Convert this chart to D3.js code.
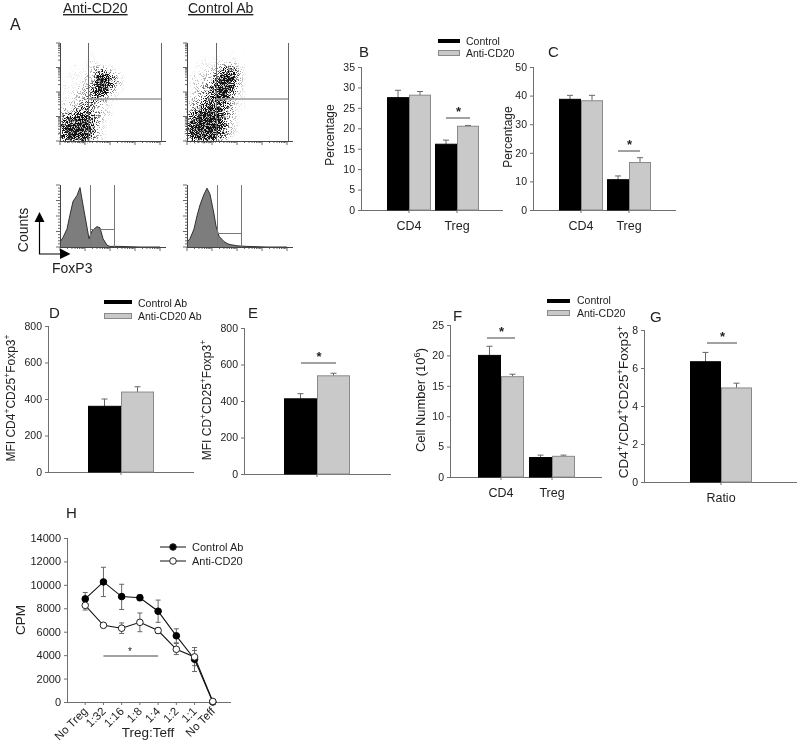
<!DOCTYPE html>
<html><head><meta charset="utf-8">
<script src="https://cdnjs.cloudflare.com/ajax/libs/d3/7.8.5/d3.min.js"></script>
<style>
html,body{margin:0;background:#fff}
svg{display:block;filter:blur(0.4px)}
text{font-family:"Liberation Sans",Arial,sans-serif;fill:#222}
</style></head><body><svg id="c" width="800" height="744"></svg>
<script>
// ---- data ----
const bCats=["CD4","Treg"], bControl=[27.5,16.1], bAnti=[28.1,20.5], bControlTop=[29.3,17.1], bAntiTop=[29,20.7];
const bTicks=[0,5,10,15,20,25,30,35];
const cCats=["CD4","Treg"], cControl=[38.7,10.6], cAnti=[38.2,16.6], cControlTop=[40.1,11.9], cAntiTop=[40.1,18.3];
const cTicks=[0,10,20,30,40,50];
const dCats=[""], dControl=[360], dAnti=[438], dControlTop=[400], dAntiTop=[467];
const dTicks=[0,200,400,600,800];
const eCats=[""], eControl=[412], eAnti=[538], eControlTop=[440], eAntiTop=[552];
const eTicks=[0,200,400,600,800];
const fCats=["CD4","Treg"], fControl=[20,3.2], fAnti=[16.5,3.4], fControlTop=[21.5,3.6], fAntiTop=[16.9,3.6];
const fTicks=[0,5,10,15,20,25];
const gCats=["Ratio"], gControl=[6.33], gAnti=[4.95], gControlTop=[6.82], gAntiTop=[5.2];
const gTicks=[0,2,4,6,8];
const hCats=["No Treg","1:32","1:16","1:8","1:4","1:2","1:1","No Teff"];
const hControl=[8800,10250,9000,8900,7750,5650,3650,0];
const hControlHi=[9350,11500,10050,9150,8700,6250,4400,0];
const hControlLo=[8200,9000,7900,8650,6800,5050,2600,0];
const hAnti=[8250,6550,6300,6800,6100,4500,3850,50];
const hAntiHi=[8800,6750,6750,7600,6350,5000,4650,50];
const hAntiLo=[7850,6350,5850,6000,5850,4050,3100,50];
const hTicks=[0,2000,4000,6000,8000,10000,12000,14000];
// flow plots: density read cell by cell (0-9), rows top to bottom
const densityAntiCD20=[
"00000000000000000","00000100000000000","00001100000000000","00101210100000000",
"01111254210000000","01112289531000000","11112399631000000","11123598421000000",
"11223674210000000","12234542110000000","22345331100000000","34677432100000000",
"57899531100000000","68999621100000000","68999521000000000","68988421000000000"];
const densityControlAb=[
"00000100100000000","00000101010000000","00111101100000000","01111223110000000",
"01122476310000000","12224798410000000","12235898310000000","12346897310000000",
"12357885210000000","23468763110000000","33579753110000000","46899843100000000",
"68999842100000000","78999852100000000","78999742100000000","68988531000000000"];
const histChannels=[0,3,7,10,13,17,20,23,27,29,32,37,40,43,47,50,60,80,100];
const histAntiCD20=[8,16,30,54,76,86,99,70,33,14,27,34,32,14,3,1,1,0,0];
const histControlAb=[8,14,30,52,70,88,98,88,55,35,18,9,6,4,3,2,1,0,0];

const COL_BLACK="#000", COL_GRAY="#c9c9c9", COL_EDGE="#8a8a8a", COL_AXIS="#6f6f6f";
const svg=d3.select("#c");

// stipple filter renders density as a dot cloud
const defs=svg.append("defs");
const fl=defs.append("filter").attr("id","stip").attr("x","0").attr("y","0").attr("width","1").attr("height","1").attr("color-interpolation-filters","sRGB");
fl.append("feGaussianBlur").attr("in","SourceGraphic").attr("stdDeviation",2.2).attr("result","b");
fl.append("feTurbulence").attr("type","fractalNoise").attr("baseFrequency",1.1).attr("numOctaves",2).attr("seed",4).attr("result","t");
fl.append("feColorMatrix").attr("in","t").attr("type","matrix").attr("values","0 0 0 0 0 0 0 0 0 0 0 0 0 0 0 4.5 0 0 0 -1.75").attr("result","n");
fl.append("feComposite").attr("in","b").attr("in2","n").attr("operator","arithmetic").attr("k1",0).attr("k2",0.55).attr("k3",0.45).attr("k4",0).attr("result","s");
const ct=fl.append("feComponentTransfer").attr("in","s").attr("result","th");
ct.append("feFuncA").attr("type","linear").attr("slope",4).attr("intercept",-1.9);
fl.append("feFlood").attr("flood-color","#111").attr("result","f");
fl.append("feComposite").attr("in","f").attr("in2","th").attr("operator","in");

function txt(x,y,s,size,anchor){return svg.append("text").attr("x",x).attr("y",y).attr("font-size",size).attr("text-anchor",anchor||"start").text(s);}
function rich(cx,cy,parts,size){
  const t=svg.append("text").attr("transform",`translate(${cx},${cy}) rotate(-90)`).attr("text-anchor","middle").attr("font-size",size);
  parts.forEach(p=>{
    if(p[1]) t.append("tspan").attr("dy",-size*0.38).attr("font-size",size*0.72).text(p[0]);
    else t.append("tspan").attr("dy",p[2]?size*0.38:0).text(p[0]);
  });
}
function styleAxis(g,size){
  g.selectAll(".domain").remove();
  g.selectAll("line").attr("stroke",COL_AXIS);
  g.selectAll("text").attr("font-size",size).attr("fill","#222").attr("font-family","Liberation Sans");
}
function barPanel(o){
  const g=svg.append("g");
  const y=d3.scaleLinear().domain(o.dom).range([o.y0,o.y1]);
  const x=d3.scalePoint().domain(o.cats).range(o.centers);
  const px=o.cats.length>1?(c=>x(c)):(()=>o.centers[0]);
  const gy=g.append("g").attr("transform",`translate(${o.ax},0)`).call(d3.axisLeft(y).tickValues(o.ticks).tickSize(3).tickPadding(3));
  styleAxis(gy,o.tickFont||10.5);
  g.append("line").attr("x1",o.ax+0.5).attr("x2",o.ax+0.5).attr("y1",o.y1).attr("y2",o.y0).attr("stroke",COL_AXIS);
  g.append("line").attr("x1",o.ax).attr("x2",o.end).attr("y1",o.y0+0.5).attr("y2",o.y0+0.5).attr("stroke",COL_AXIS);
  const series=[[o.control,o.controlTop,-1,COL_BLACK,COL_BLACK],[o.anti,o.antiTop,0,COL_GRAY,COL_EDGE]];
  series.forEach(s=>{
    o.cats.forEach((c,i)=>{
      const bx=px(c)+s[2]*o.bw, mid=bx+o.bw/2;
      g.append("line").attr("x1",mid).attr("x2",mid).attr("y1",y(s[0][i])).attr("y2",y(s[1][i])).attr("stroke","#666");
      g.append("line").attr("x1",mid-3).attr("x2",mid+3).attr("y1",y(s[1][i])).attr("y2",y(s[1][i])).attr("stroke","#666");
      g.append("rect").attr("x",bx+0.5).attr("width",o.bw-1).attr("y",y(s[0][i])).attr("height",o.y0-y(s[0][i])).attr("fill",s[3]).attr("stroke",s[4]);
    });
  });
  o.cats.forEach(c=>{
    g.append("line").attr("x1",px(c)).attr("x2",px(c)).attr("y1",o.y0).attr("y2",o.y0+3).attr("stroke",COL_AXIS);
    if(c) txt(px(c),o.y0+20,c,12.5,"middle");
  });
  if(o.sig){
    g.append("line").attr("x1",o.sig[0]).attr("x2",o.sig[1]).attr("y1",o.sig[2]).attr("y2",o.sig[2]).attr("stroke","#444");
    txt((o.sig[0]+o.sig[1])/2+0.5,o.sig[2]-2,"*",13,"middle").attr("font-weight","bold");
  }
}
function legendBars(x0,x1,y1,y2,tx,b1,b2,labels){
  svg.append("rect").attr("x",x0).attr("y",y1-2).attr("width",x1-x0).attr("height",4).attr("fill","#000");
  svg.append("rect").attr("x",x0+.5).attr("y",y2-2.5).attr("width",x1-x0-1).attr("height",5).attr("fill",COL_GRAY).attr("stroke",COL_EDGE);
  txt(tx,b1,labels[0],10.5); txt(tx,b2,labels[1],10.5);
}
function logTicks(g,scale,pos,dir){
  const majors=[1,10,100,1000,10000];
  scale.ticks().forEach(t=>{
    const major=majors.includes(t), len=major?4:2, p=scale(t);
    if(dir==="x") g.append("line").attr("x1",p).attr("x2",p).attr("y1",pos).attr("y2",pos+len).attr("stroke","#444").attr("stroke-width",.8);
    else g.append("line").attr("x1",pos).attr("x2",pos-len).attr("y1",p).attr("y2",p).attr("stroke","#444").attr("stroke-width",.8);
  });
}
function flowFrame(g,left,top,bottom,right,yIsLog){
  const xs=d3.scaleLog().domain([1,10000]).range([left,right-6]);
  g.append("line").attr("x1",left).attr("x2",right).attr("y1",bottom+.5).attr("y2",bottom+.5).attr("stroke","#444");
  g.append("line").attr("x1",left+.5).attr("x2",left+.5).attr("y1",top).attr("y2",bottom).attr("stroke","#444");
  logTicks(g,xs,bottom,"x");
  if(yIsLog) logTicks(g,d3.scaleLog().domain([1,10000]).range([bottom,top]),left,"y");
  else d3.range(0,21).forEach(i=>{
    const yy=d3.scaleLinear().domain([0,20]).range([bottom,top])(i);
    g.append("line").attr("x1",left).attr("x2",left-(i%5===0?4:2)).attr("y1",yy).attr("y2",yy).attr("stroke","#444").attr("stroke-width",.8);
  });
}
function dotPlot(left,gate,gateEnd,rows){
  const g=svg.append("g");
  const top=43,bottom=141,hy=99;
  const cx=d3.scaleBand().domain(d3.range(rows[0].length)).range([left,left+102]);
  const cy=d3.scaleBand().domain(d3.range(rows.length)).range([top,bottom]);
  const a=d3.scalePow().exponent(1.15).domain([0,9]).range([0,1.1]);
  const cloud=g.append("g").attr("filter","url(#stip)");
  cloud.append("rect").attr("x",left-3).attr("y",top-3).attr("width",112).attr("height",104).attr("fill","#fff").attr("fill-opacity",0);
  rows.forEach((r,ri)=>r.split("").forEach((d,ci)=>{
    if(+d>0) cloud.append("rect").attr("x",cx(ci)).attr("y",cy(ri)).attr("width",cx.bandwidth()).attr("height",cy.bandwidth()).attr("fill","#000").attr("fill-opacity",Math.min(1,a(+d)));
  }));
  flowFrame(g,left,top,bottom,left+106,true);
  [gate,gateEnd].forEach(v=>g.append("line").attr("x1",v+.5).attr("x2",v+.5).attr("y1",top).attr("y2",bottom).attr("stroke","#666"));
  g.append("line").attr("x1",gate).attr("x2",gateEnd).attr("y1",hy).attr("y2",hy).attr("stroke","#999").attr("stroke-width",1.5);
}
function histPlot(left,counts,gate,gateEnd,hy){
  const g=svg.append("g");
  const top=185,bottom=247;
  const x=d3.scaleLinear().domain([0,106]).range([left,left+106]);
  const y=d3.scaleLinear().domain([0,100]).range([bottom,top+2]);
  const area=d3.area().x((d,i)=>x(histChannels[i])).y0(bottom).y1(d=>y(d)).curve(d3.curveLinear);
  const line=d3.line().x((d,i)=>x(histChannels[i])).y(d=>y(d));
  g.append("path").attr("d",area(counts)).attr("fill","#7d7d7d");
  g.append("path").attr("d",line(counts)).attr("fill","none").attr("stroke","#222").attr("stroke-width",.9);
  flowFrame(g,left,top,bottom,left+106,false);
  [gate,gateEnd].forEach(v=>g.append("line").attr("x1",v+.5).attr("x2",v+.5).attr("y1",top).attr("y2",bottom).attr("stroke","#777"));
  g.append("line").attr("x1",gate).attr("x2",gateEnd).attr("y1",hy+.5).attr("y2",hy+.5).attr("stroke","#777");
}

// ---- panel A ----
txt(63,13,"Anti-CD20",14).attr("text-decoration","underline");
txt(188,13,"Control Ab",14).attr("text-decoration","underline");
txt(10,30,"A",16);
dotPlot(60,88,161,densityAntiCD20);
dotPlot(187,216,288,densityControlAb);
histPlot(60,histAntiCD20,90,114,229);
histPlot(187,histControlAb,217,241,233);
rich(28,230,[["Counts"]],14);
txt(52,273,"FoxP3",14);
svg.append("path").attr("d","M39.5 222V254H60").attr("fill","none").attr("stroke","#000").attr("stroke-width",1.2);
svg.append("path").attr("d",d3.line()([[34.5,222],[44.5,222],[39.5,212]])+"Z").attr("fill","#000");
svg.append("path").attr("d",d3.line()([[60,248.5],[60,259],[70.5,254]])+"Z").attr("fill","#000");

// ---- B, C ----
barPanel({cats:bCats,control:bControl,anti:bAnti,controlTop:bControlTop,antiTop:bAntiTop,ticks:bTicks,dom:[0,35],y0:210,y1:67,ax:361,end:503,centers:[409,457],bw:22,sig:[446,470,118]});
barPanel({cats:cCats,control:cControl,anti:cAnti,controlTop:cControlTop,antiTop:cAntiTop,ticks:cTicks,dom:[0,50],y0:210,y1:67,ax:533,end:676,centers:[581,629],bw:22,sig:[618,640,151]});
rich(334,135,[["Percentage"]],12);
rich(512,137,[["Percentage"]],12);
txt(359,57,"B",15); txt(548,57,"C",15);
legendBars(438,460,41,53,466,44.5,57,["Control","Anti-CD20"]);

// ---- D, E ----
barPanel({cats:dCats,control:dControl,anti:dAnti,controlTop:dControlTop,antiTop:dAntiTop,ticks:dTicks,dom:[0,800],y0:472,y1:326,ax:48,end:194,centers:[121,121],bw:33});
barPanel({cats:eCats,control:eControl,anti:eAnti,controlTop:eControlTop,antiTop:eAntiTop,ticks:eTicks,dom:[0,800],y0:474,y1:328,ax:244,end:391,centers:[317,317],bw:33,sig:[301,336,363]});
rich(15,398,[["MFI CD4"],["+",1],["CD25",0,1],["+",1],["Foxp3",0,1],["+",1]],12);
rich(211,400,[["MFI CD"],["+",1],["CD25",0,1],["+",1],["Foxp3",0,1],["+",1]],12);
txt(49,318,"D",15); txt(248,318,"E",15);
legendBars(104,132,302,316,138,307,320,["Control Ab","Anti-CD20 Ab"]);

// ---- F, G ----
barPanel({cats:fCats,control:fControl,anti:fAnti,controlTop:fControlTop,antiTop:fAntiTop,ticks:fTicks,dom:[0,25],y0:477,y1:325,ax:450,end:602,centers:[501,552],bw:23,sig:[487,515,338]});
barPanel({cats:gCats,control:gControl,anti:gAnti,controlTop:gControlTop,antiTop:gAntiTop,ticks:gTicks,dom:[0,8],y0:482,y1:330,ax:644,end:797,centers:[721,721],bw:31,sig:[707,737,343]});
rich(425,400,[["Cell Number (10"],["6",1],[")",0,1]],13);
rich(628,402,[["CD4"],["+",1],["/CD4",0,1],["+",1],["CD25",0,1],["+",1],["Foxp3",0,1],["+",1]],13.5);
txt(453,321,"F",15); txt(650,322,"G",15);
legendBars(547,570,301,313,577,304,317,["Control","Anti-CD20"]);

// ---- H ----
(function(){
  const g=svg.append("g");
  const x=d3.scaleLinear().domain([-1,8]).range([67,231]);
  const y=d3.scaleLinear().domain([0,14000]).range([702,538]);
  const gy=g.append("g").attr("transform","translate(67,0)").call(d3.axisLeft(y).tickValues(hTicks).tickFormat(d3.format("d")).tickSize(3).tickPadding(3));
  styleAxis(gy,11);
  g.append("line").attr("x1",67.5).attr("x2",67.5).attr("y1",538).attr("y2",702).attr("stroke",COL_AXIS);
  g.append("line").attr("x1",67).attr("x2",231).attr("y1",702.5).attr("y2",702.5).attr("stroke",COL_AXIS);
  hCats.forEach((c,i)=>{
    g.append("line").attr("x1",x(i)).attr("x2",x(i)).attr("y1",702).attr("y2",705).attr("stroke",COL_AXIS);
    g.append("text").attr("transform",`translate(${x(i)+3},${712}) rotate(-45)`).attr("text-anchor","end").attr("font-size",11.5).text(c);
  });
  const line=d3.line().x((d,i)=>x(i)).y(d=>y(d));
  [[hControl,hControlHi,hControlLo],[hAnti,hAntiHi,hAntiLo]].forEach(s=>{
    s[0].forEach((v,i)=>{
      g.append("line").attr("x1",x(i)).attr("x2",x(i)).attr("y1",y(s[1][i])).attr("y2",y(s[2][i])).attr("stroke","#666");
      [s[1][i],s[2][i]].forEach(e=>g.append("line").attr("x1",x(i)-2.5).attr("x2",x(i)+2.5).attr("y1",y(e)).attr("y2",y(e)).attr("stroke","#666"));
    });
  });
  g.append("path").attr("d",line(hControl)).attr("fill","none").attr("stroke","#111").attr("stroke-width",1.1);
  g.append("path").attr("d",line(hAnti)).attr("fill","none").attr("stroke","#111").attr("stroke-width",1.1);
  hControl.forEach((v,i)=>g.append("circle").attr("cx",x(i)).attr("cy",y(v)).attr("r",3.3).attr("fill","#000").attr("stroke","#000"));
  hAnti.forEach((v,i)=>g.append("circle").attr("cx",x(i)).attr("cy",y(v)).attr("r",3.3).attr("fill","#fff").attr("stroke","#222"));
  g.append("line").attr("x1",x(1)).attr("x2",x(4)).attr("y1",656).attr("y2",656).attr("stroke","#444");
  txt(130,655,"*",10,"middle");
  [[547,"#000"],[561,"#fff"]].forEach(l=>{
    g.append("line").attr("x1",160).attr("x2",186).attr("y1",l[0]).attr("y2",l[0]).attr("stroke","#111");
    g.append("circle").attr("cx",173).attr("cy",l[0]).attr("r",3.3).attr("fill",l[1]).attr("stroke","#222");
  });
  txt(192,550.5,"Control Ab",11); txt(192,565,"Anti-CD20",11);
  txt(148,737,"Treg:Teff",13.5,"middle");
  rich(25,620,[["CPM"]],13.5);
  txt(66,518,"H",15);
})();
</script></body></html>
